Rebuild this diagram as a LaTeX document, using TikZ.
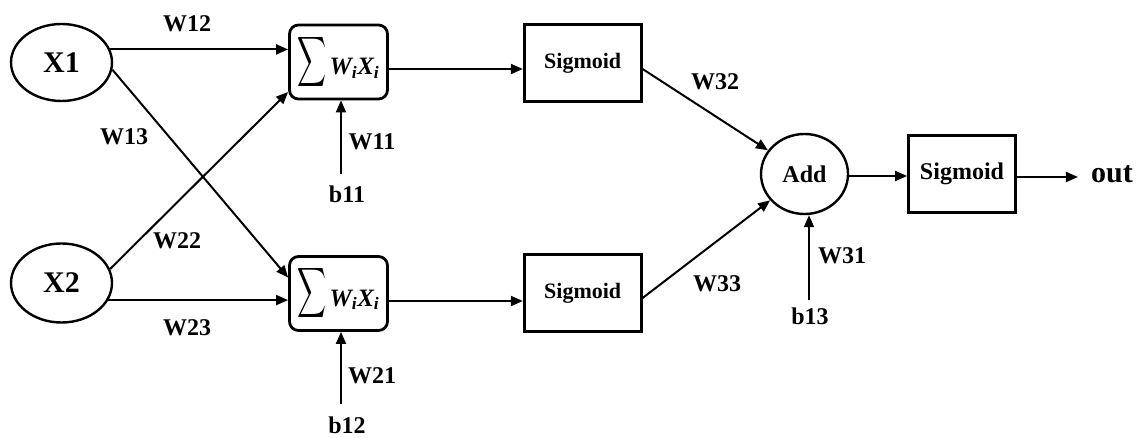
\documentclass[tikz,border=0pt]{standalone}
\usepackage{fontspec}
\usepackage{graphicx}
\setmainfont{Liberation Serif}
\usetikzlibrary{arrows.meta,shapes.geometric,calc}

\tikzset{
  lbl/.style={inner sep=0pt, font=\fontsize{24}{24}\selectfont\bfseries},
  inp/.style={draw, ellipse, line width=2.4pt, inner sep=0pt,
              font=\fontsize{30}{30}\selectfont\bfseries},
  sumbox/.style={draw, rectangle, rounded corners=9pt, line width=2.8pt,
                 minimum width=98pt, minimum height=74pt, inner sep=0pt},
  actbox/.style={draw, rectangle, line width=2.8pt, inner sep=0pt},
  arr/.style={line width=2pt, -{Triangle[length=12pt,width=10pt]}}
}

\newcommand{\wsum}{%
  \raisebox{4pt}{\resizebox*{29pt}{56pt}{$\displaystyle\sum$}}\hspace{3pt}%
  {\fontsize{25}{25}\selectfont\bfseries\itshape W\textsubscript{i}X\textsubscript{i}}}

\begin{document}
\begin{tikzpicture}[x=1pt, y=-1pt]
\useasboundingbox (0,0) rectangle (1143,438);

% inputs
\node[inp, minimum width=101pt, minimum height=77pt] (X1) at (61.5,62.5) {X1};
\node[inp, minimum width=101pt, minimum height=79pt] (X2) at (61.5,283) {X2};

% weighted sums
\node[sumbox] (S1) at (338.5,62) {\wsum};
\node[sumbox] (S2) at (338.5,293.5) {\wsum};

% hidden activations
\node[actbox, minimum width=117pt, minimum height=77pt,
      font=\fontsize{22}{22}\selectfont\bfseries] (G1) at (582.7,63) {Sigmoid};
\node[actbox, minimum width=117pt, minimum height=77pt,
      font=\fontsize{22}{22}\selectfont\bfseries] (G2) at (582.7,293) {Sigmoid};

% output stage
\node[draw, ellipse, line width=2.4pt, minimum width=87pt, minimum height=80pt,
      inner sep=0pt, font=\fontsize{24}{24}\selectfont\bfseries] (A) at (804.5,174) {Add};
\node[actbox, minimum width=107pt, minimum height=77pt,
      font=\fontsize{24}{24}\selectfont\bfseries] (G3) at (962,174) {Sigmoid};
\node[inner sep=0pt, font=\fontsize{30}{30}\selectfont\bfseries] (out) at (1112,174) {out};

% bias inputs
\node[lbl] (b11) at (347,194) {b11};
\node[lbl] (b12) at (347,425) {b12};
\node[lbl] (b13) at (810,316) {b13};

% entry points of the bias arrows
\coordinate (s1in) at ([xshift=2.5pt]S1.south);
\coordinate (s2in) at ([xshift=2.5pt]S2.south);
\coordinate (ain)  at ([xshift=4.5pt]A.south);
\coordinate (b11t) at ([yshift=11pt]b11.north);
\coordinate (b12t) at ([yshift=12pt]b12.north);
\coordinate (b13t) at ([yshift=7pt]b13.north);
\coordinate (outl) at ([xshift=-13pt]out.west);

% first layer connections
\draw[arr] (X1.15) -- (X1.15 -| S1.west);
\draw[arr] (X2.-20) -- (X2.-20 -| S2.west);
\draw[arr] (X1.-8) -- ([yshift=16pt]S2.west);
\draw[arr] (X2.16) -- ([yshift=-30pt]S1.west);

% bias arrows
\draw[arr] (b11t -| s1in) -- (s1in);
\draw[arr] (b12t -| s2in) -- (s2in);
\draw[arr] (b13t -| ain) -- (ain);

% sums to activations
\draw[arr] ([yshift=-7pt]S1.east) -- ([yshift=-7pt]S1.east -| G1.west);
\draw[arr] ([yshift=-7.5pt]S2.east) -- ([yshift=-7.5pt]S2.east -| G2.west);

% activations to adder
\draw[arr] ([yshift=-6pt]G1.east) -- (A);
\draw[arr] ([yshift=-5pt]G2.east) -- (A);

% adder to output
\draw[arr] ([yshift=-2pt]A.east) -- ([yshift=-2pt]A.east -| G3.west);
\draw[arr] ([yshift=-3pt]G3.east) -- ([yshift=-3pt]G3.east -| outl);

% weight labels
\node[lbl] (w12) at (187,24) {W12};
\node[lbl] (w13) at (124,137) {W13};
\node[lbl] (w22) at (177,241) {W22};
\node[lbl] (w23) at (187,328) {W23};
\node[lbl] (w11) at (372,142) {W11};
\node[lbl] (w21) at (372,376) {W21};
\node[lbl] (w32) at (715,82) {W32};
\node[lbl] (w33) at (717,284) {W33};
\node[lbl] (w31) at (842,256) {W31};
\end{tikzpicture}
\end{document}
